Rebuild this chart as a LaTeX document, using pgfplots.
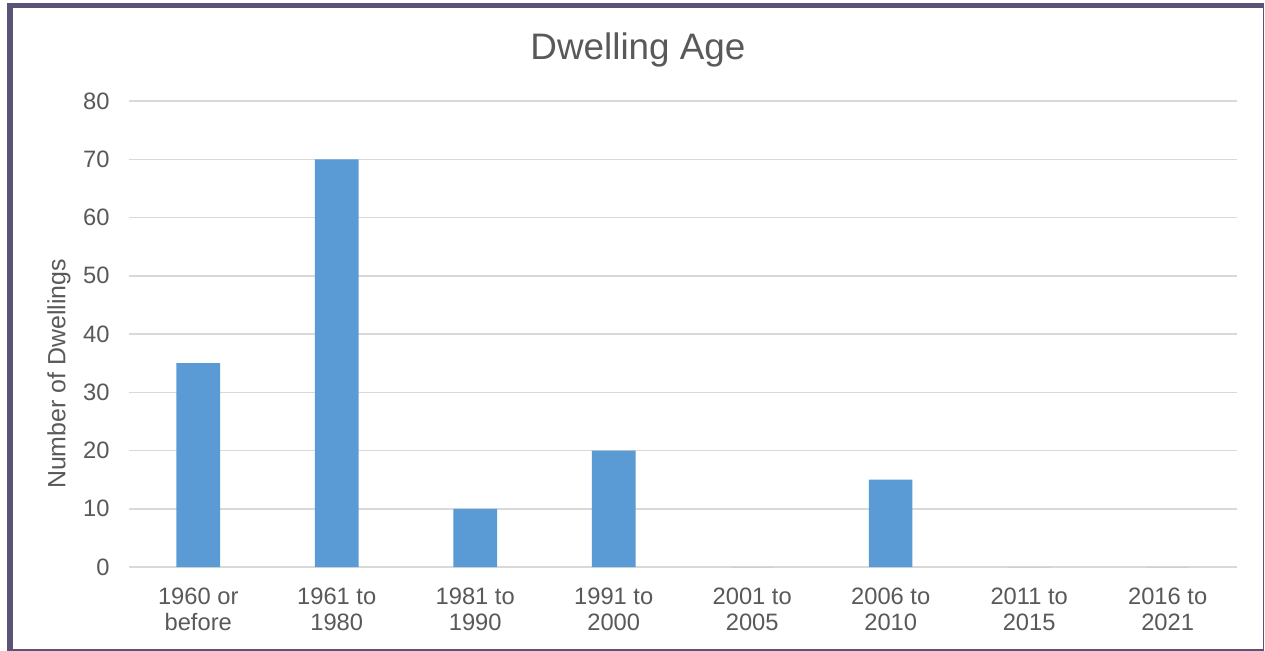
\documentclass[border=0pt]{standalone}
\usepackage{pgfplots}
\pgfplotsset{compat=1.18}
\usepackage{fontspec}
\setmainfont{Liberation Sans}
\definecolor{txt}{HTML}{595959}
\definecolor{bar}{HTML}{5B9BD5}
\definecolor{grd}{HTML}{D9D9D9}
\definecolor{frm}{HTML}{5B5278}
\begin{document}
\begin{tikzpicture}
% page area (image coords: x-129, 567-y)
\fill[white] (-129bp,-84bp) rectangle (1136bp,567bp);
\begin{axis}[
  at={(0,0)}, anchor=south west,
  scale only axis, width=1108bp, height=466bp,
  xmin=-0.5, xmax=7.5, ymin=0, ymax=80,
  ybar, bar width=43.6bp,
  axis line style={draw=none},
  major tick length=0pt,
  ytick={0,10,...,80},
  ymajorgrids, grid style={grd, line width=1.5bp},
  xtick={0,...,7},
  xticklabels={{1960 or\\before},{1961 to\\1980},{1981 to\\1990},{1991 to\\2000},{2001 to\\2005},{2006 to\\2010},{2011 to\\2015},{2016 to\\2021}},
  xticklabel style={align=center, font=\fontsize{23.8}{27}\selectfont, text=txt, yshift=-17bp},
  yticklabel style={font=\fontsize{23.8}{27}\selectfont, text=txt, xshift=-16bp},
  /pgf/number format/assume math mode=true,
  clip=false,
]
\addplot[fill=bar, draw=none] coordinates {(0,35) (1,70) (2,10) (3,20) (4,0) (5,15) (6,0) (7,0)};
\end{axis}
\node[text=txt, font=\fontsize{37}{42}\selectfont] at (509bp,517bp) {Dwelling Age};
\node[text=txt, rotate=90, font=\fontsize{25}{29}\selectfont] at (-70bp,193bp) {Number of Dwellings};
% frame
\fill[frm] (-121.7bp,-83.5bp) rectangle (-116.3bp,563.7bp);
\fill[frm] (-121.7bp,558.7bp) rectangle (1135bp,563.7bp);
\fill[frm] (1133.5bp,-83.5bp) rectangle (1135bp,563.7bp);
\fill[frm] (-121.7bp,-83.5bp) rectangle (1135bp,-82bp);
\end{tikzpicture}
\end{document}
